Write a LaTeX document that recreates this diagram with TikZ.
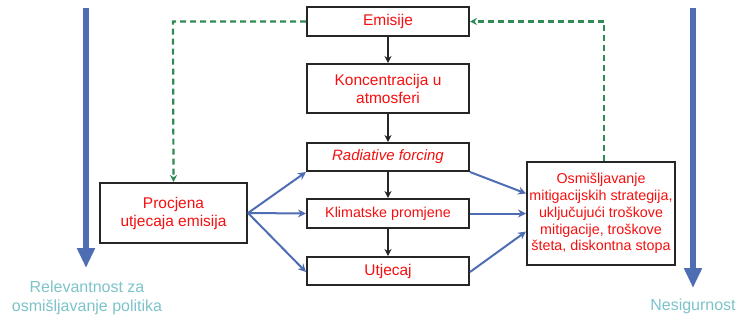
\documentclass[tikz,border=0pt]{standalone}
\usepackage{fontspec}
\setmainfont{Liberation Sans}
\usetikzlibrary{arrows.meta}
\definecolor{txtred}{HTML}{F50F0F}
\definecolor{bluearr}{HTML}{4F6DB3}
\definecolor{greendash}{HTML}{2F8A55}
\definecolor{teallbl}{HTML}{7CC3CA}
\definecolor{boxline}{HTML}{262626}
\tikzset{
  box/.style={draw=boxline, line width=2pt, fill=white, text=txtred, inner sep=0pt, align=center, font=\fontsize{15.5}{18}\selectfont},
  down/.style={-{Stealth[length=7pt,width=7pt]}, line width=1.5pt, draw=boxline},
  barr/.style={-{Stealth[length=8pt,width=8pt]}, line width=2pt, draw=bluearr},
  gdash/.style={-{Stealth[length=7pt,width=7pt]}, line width=2.2pt, draw=greendash, dash pattern=on 6pt off 4pt},
  bigarr/.style={-{Triangle[length=20pt,width=17pt]}, line width=6pt, draw=bluearr},
  lbl/.style={text=teallbl, align=center, font=\fontsize{16}{18.5}\selectfont}
}
\begin{document}
\begin{tikzpicture}[x=1pt,y=-1pt]
\useasboundingbox (0,0) rectangle (739,322);
% boxes
\node[box, minimum width=162pt, minimum height=29pt] (em) at (388,21.5) {Emisije};
\node[box, minimum width=162pt, minimum height=49pt] (ko) at (388,88.5) {Koncentracija u\\atmosferi};
\node[box, minimum width=162pt, minimum height=28pt, font=\fontsize{15}{18}\selectfont] (rf) at (388,157) {\itshape Radiative forcing};
\node[box, minimum width=162pt, minimum height=29pt, font=\fontsize{14.3}{17}\selectfont] (kp) at (388,213.5) {Klimatske promjene};
\node[box, minimum width=162pt, minimum height=28pt] (ut) at (388,271) {Utjecaj};
\node[box, minimum width=147pt, minimum height=60pt] (pr) at (173.5,213) {Procjena\\utjecaja emisija};
\node[box, minimum width=148pt, minimum height=103pt, font=\fontsize{14.3}{16.8}\selectfont] (os) at (601,213.5) {Osmišljavanje\\mitigacijskih strategija,\\uključujući troškove\\mitigacije, troškove\\šteta, diskontna stopa};
% black down arrows
\draw[down] (em) -- (ko);
\draw[down] (ko) -- (rf);
\draw[down] (rf) -- (kp);
\draw[down] (kp) -- (ut);
% blue arrows
\coordinate (prr) at (pr.east);
\draw[barr] (prr) -- (rf.south west);
\draw[barr] (prr) -- (kp.west);
\draw[barr] (prr) -- ([yshift=-1pt]ut.west);
\draw[barr] (rf.south east) -- ([yshift=20pt]os.west);
\draw[barr] (kp.east) -- (os.west);
\draw[barr] ([yshift=-1pt]ut.east) -- ([yshift=-18pt]os.west);
% green dashed feedback
\coordinate (gl) at (173,21.5);
\coordinate (gr) at (604,21.5);
\draw[gdash] (em.west) -- (gl) -- (pr.north);
\draw[gdash] (os.north -| gr) -- (gr) -- (em.east);
% big vertical arrows
\coordinate (la1) at (86,8);
\coordinate (la2) at (86,268);
\coordinate (ra1) at (693,8);
\coordinate (ra2) at (693,288);
\draw[bigarr] (la1) -- (la2);
\draw[bigarr] (ra1) -- (ra2);
% labels
\node[lbl] (rel) at (87,298) {Relevantnost za\\osmišljavanje politika};
\node[lbl] (nes) at (693,306) {Nesigurnost};
\end{tikzpicture}
\end{document}
